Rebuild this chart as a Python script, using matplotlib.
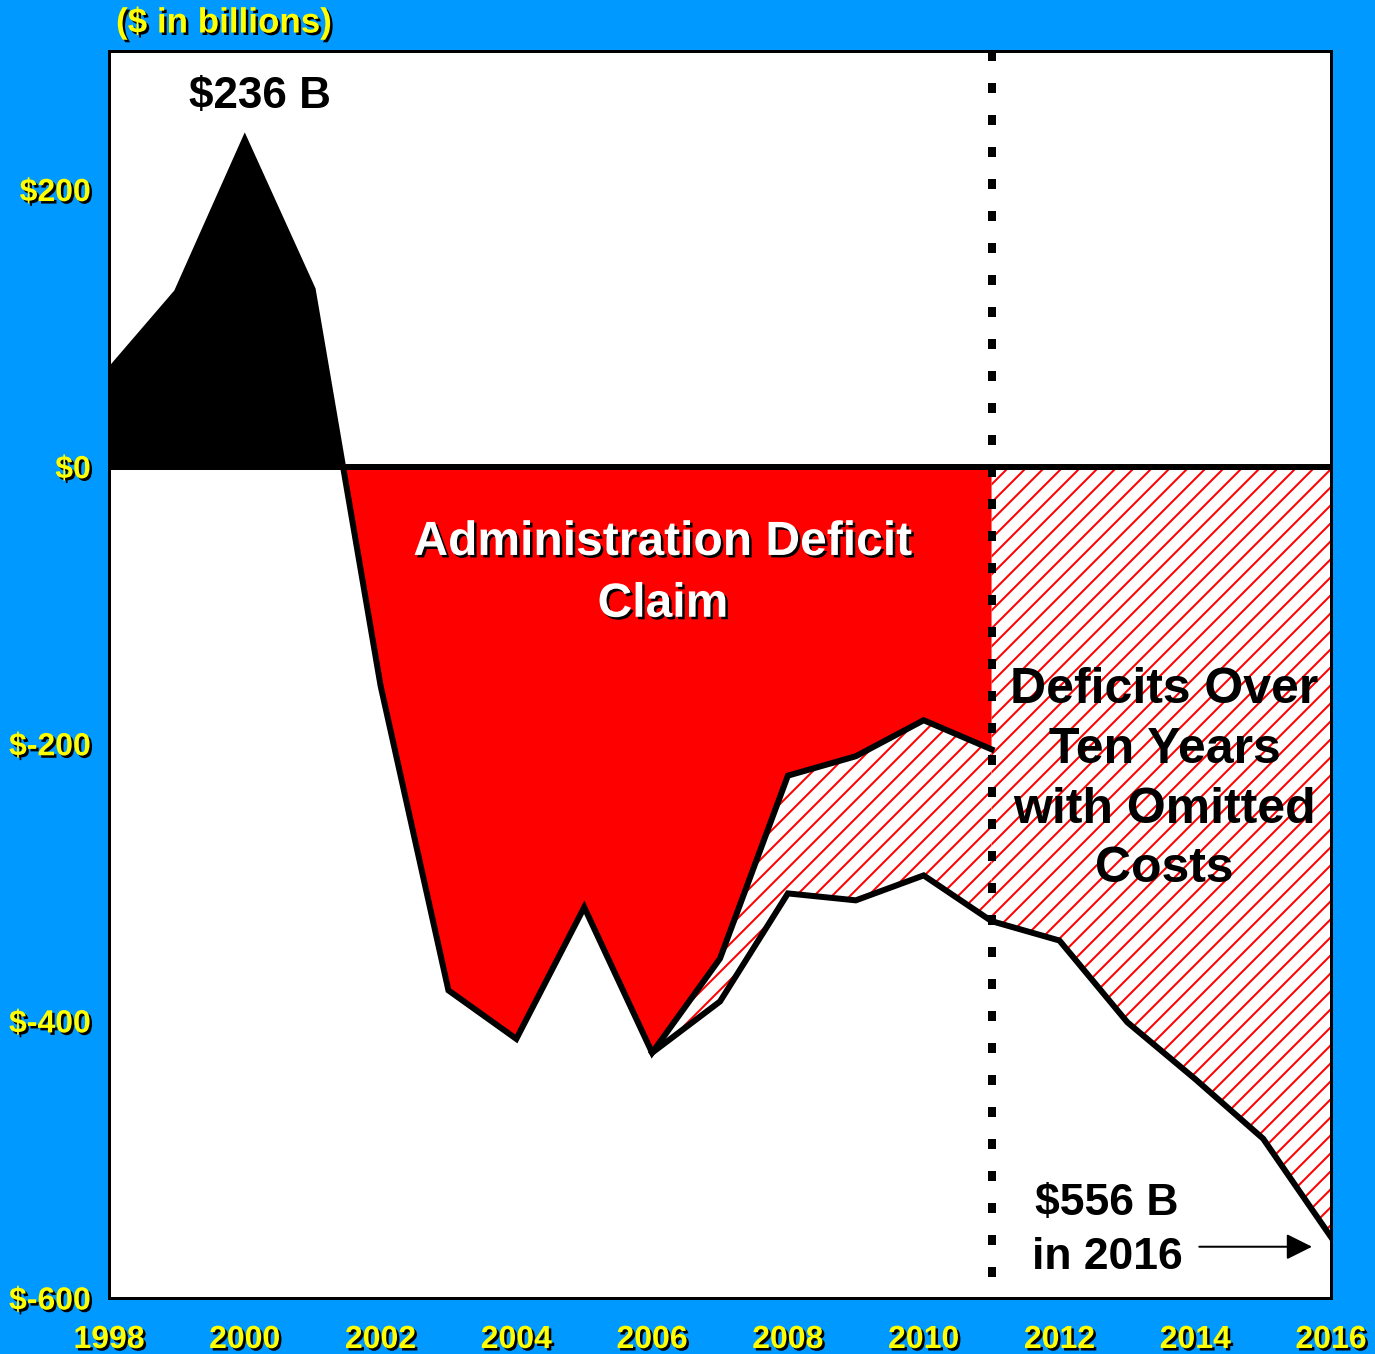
import numpy as np
import matplotlib.pyplot as plt
import matplotlib.patheffects as pe
from matplotlib.backend_bases import GraphicsContextBase

# Datos (miles de millones de dólares)
anios_admin = np.arange(1998, 2012)
saldo_admin = np.array([69, 126, 236, 128, -158, -378, -413, -318, -423, -355, -223, -209, -183, -204])

anios_omit = np.arange(2006, 2017)
saldo_omit = np.array([-423, -386, -308, -313, -295, -328, -342, -401, -442, -485, -556])

anios_ticks = np.arange(1998, 2017, 2)
valores_y = [200, 0, -200, -400, -600]
etiquetas_y = ['$200', '$0', '$-200', '$-400', '$-600']

azul = '#0099FF'
rojo = '#FF0000'
amarillo = '#FFFF00'

# rayado un poco más denso que el de matplotlib por defecto
_hatch_original = GraphicsContextBase.get_hatch_path


def _hatch_denso(self, density=6.0):
    return _hatch_original(self, density=8.5)


GraphicsContextBase.get_hatch_path = _hatch_denso

plt.rcParams['font.family'] = ['Liberation Sans', 'DejaVu Sans']
plt.rcParams['font.weight'] = 'bold'
plt.rcParams['hatch.linewidth'] = 2.0

DPI = 72
fig = plt.figure(figsize=(1375 / DPI, 1354 / DPI), dpi=DPI, facecolor=azul)
ax = fig.add_axes([109 / 1375, 1 - 1298 / 1354, (1331 - 109) / 1375, (1298 - 51) / 1354])
ax.set_facecolor('white')

sombra = [pe.SimplePatchShadow(offset=(2.5, -2.5), shadow_rgbFace='black', alpha=1), pe.Normal()]

# Áreas
ax.fill_between(anios_admin, saldo_admin, 0, where=saldo_admin >= 0, interpolate=True,
                color='black', linewidth=0, zorder=1)
ax.fill_between(anios_admin, saldo_admin, 0, where=saldo_admin <= 0, interpolate=True,
                color=rojo, linewidth=0, zorder=1)

tramo = anios_admin >= 2006
ax.fill_between(anios_omit[:6], saldo_admin[tramo], saldo_omit[:6], facecolor='white',
                edgecolor=rojo, hatch='/', linewidth=0, zorder=1)
ax.fill_between(anios_omit[5:], 0, saldo_omit[5:], facecolor='white',
                edgecolor=rojo, hatch='/', linewidth=0, zorder=1)

# Líneas
ax.plot(anios_admin, saldo_admin, color='black', lw=6, solid_joinstyle='miter', zorder=3)
ax.plot(anios_omit, saldo_omit, color='black', lw=6, solid_joinstyle='miter', zorder=3)
ax.axhline(0, color='black', lw=6, zorder=4)
ax.plot([2011, 2011], [300, -600], color='black', lw=8, linestyle=(0, (1.25, 2.75)),
        zorder=5, clip_on=False)

ax.set_xlim(1998, 2016)
ax.set_ylim(-600, 300)

ax.set_xticks(anios_ticks)
ax.set_xticklabels([str(a) for a in anios_ticks])
ax.set_yticks(valores_y)
ax.set_yticklabels(etiquetas_y)
ax.tick_params(axis='both', length=0, labelsize=32, labelcolor=amarillo)
ax.tick_params(axis='x', pad=27)
ax.tick_params(axis='y', pad=18)
for lbl in ax.get_xticklabels() + ax.get_yticklabels():
    lbl.set_fontweight('bold')
    lbl.set_path_effects(sombra)

for s in ax.spines.values():
    s.set_linewidth(3)
    s.set_color('black')
    s.set_zorder(6)

# Textos
fig.text(224 / 1375, 1 - 23 / 1354, '($ in billions)', color=amarillo, fontsize=35,
         fontweight='bold', ha='center', va='center', path_effects=sombra)

ax.text(2000.22, 267, '$236 B', fontsize=44, fontweight='bold', ha='center', va='center')

ax.text(2006.16, -77, 'Administration Deficit\nClaim', color='white', fontsize=48,
        fontweight='bold', ha='center', va='center', linespacing=1.48, path_effects=sombra,
        zorder=7)

ax.text(2013.55, -226, 'Deficits Over\nTen Years\nwith Omitted\nCosts', fontsize=50,
        fontweight='bold', ha='center', va='center', linespacing=1.38, zorder=7)

ax.text(2012.7, -551, '$556 B\nin 2016', fontsize=44.5, fontweight='bold', ha='center',
        va='center', linespacing=1.4, zorder=7)
ax.annotate('', xy=(2015.75, -563), xytext=(2014.03, -563),
            arrowprops=dict(arrowstyle='-|>', color='black', lw=2, mutation_scale=55),
            zorder=7)

fig.savefig('out.png', dpi=DPI, facecolor=azul)
